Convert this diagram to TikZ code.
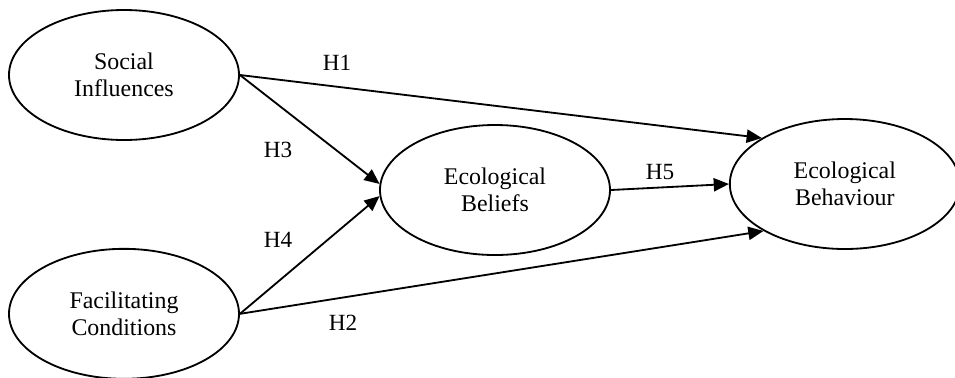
\documentclass[tikz,border=0pt]{standalone}
\usepackage{fontspec}
\setmainfont{Liberation Serif}
\usetikzlibrary{shapes,arrows.meta,positioning}

\begin{document}
\begin{tikzpicture}[
    node distance=2.675cm and 2.95cm,
    construct/.style={ellipse, draw, line width=1.3pt, minimum width=5.75cm,
                      minimum height=3.25cm, inner sep=0pt, align=center,
                      font=\fontsize{17}{19.5}\selectfont},
    hyp/.style={inner sep=0pt, font=\fontsize{16.5}{19}\selectfont},
    arrow/.style={-{Triangle[length=3.8mm,width=3.3mm]}, line width=1.3pt}
]
\useasboundingbox (0,0) rectangle (23.875,-9.425);

\node[construct] (social) at (3.1,-1.875) {Social\\Influences};
\node[construct, below=of social] (facil) {Facilitating\\Conditions};
\node[construct] (beliefs) at (12.375,-4.75) {Ecological\\Beliefs};
\node[construct, right=of beliefs, yshift=0.15cm] (behav) {Ecological\\Behaviour};

\node[hyp] (h1) at (8.425,-1.575) {H1};
\node[hyp] (h3) at (6.95,-3.75) {H3};
\node[hyp] (h4) at (6.95,-6.0) {H4};
\node[hyp] (h2) at (8.575,-8.075) {H2};
\node[hyp] (h5) at (16.5,-4.3) {H5};

\draw[arrow] (social.east) -- (behav.151);
\draw[arrow] (facil.east) -- (behav.210);
\draw[arrow] (social.east) -- (beliefs.177);
\draw[arrow] (facil.east) -- (beliefs.183);
\draw[arrow] (beliefs.east) -- (behav.west);
\end{tikzpicture}
\end{document}
